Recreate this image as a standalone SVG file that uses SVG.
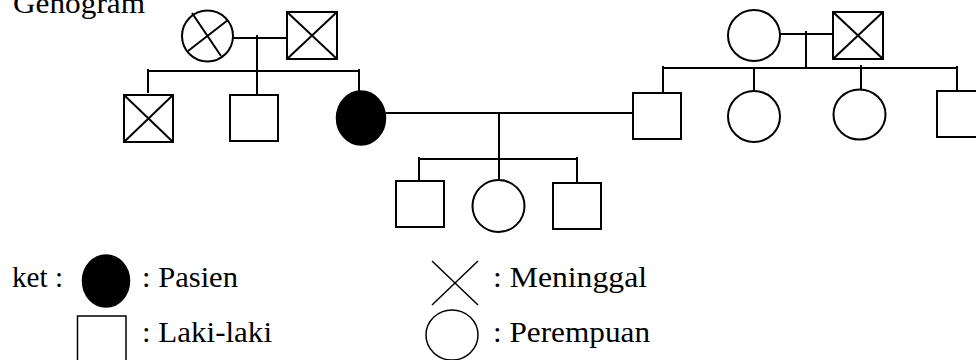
<svg xmlns="http://www.w3.org/2000/svg" width="976" height="360" viewBox="0 0 976 360">
<style>
.s{fill:#fff;stroke:#000;stroke-width:2}
.f{fill:#000;stroke:#000;stroke-width:1.5}
.x{stroke:#000;stroke-width:2;fill:none}
.c line{stroke:#000;stroke-width:2}
.l{fill:#fff;stroke:#000;stroke-width:1.5}
.lx{stroke:#000;stroke-width:1.5}
text{font-family:"Liberation Serif","Times New Roman",serif;font-size:30px;fill:#000}
</style>
<rect width="976" height="360" fill="#fff"/>
<text x="13" y="13" textLength="132" lengthAdjust="spacingAndGlyphs">Genogram</text>

<g id="connectors" class="c">
  <line x1="233" y1="38" x2="287" y2="38"/>
  <line x1="257" y1="35" x2="257" y2="95"/>
  <line x1="148" y1="71" x2="359" y2="71"/>
  <line x1="148" y1="69" x2="148" y2="93"/>
  <line x1="359" y1="69" x2="359" y2="91"/>
  <line x1="780" y1="34" x2="833" y2="34"/>
  <line x1="806" y1="31" x2="806" y2="68"/>
  <line x1="663" y1="68" x2="957" y2="68"/>
  <line x1="663" y1="66" x2="663" y2="93"/>
  <line x1="754" y1="68" x2="754" y2="91"/>
  <line x1="861" y1="65" x2="861" y2="89"/>
  <line x1="957" y1="66" x2="957" y2="91"/>
  <line x1="385" y1="113" x2="633" y2="113"/>
  <line x1="499" y1="113" x2="499" y2="180"/>
  <line x1="419" y1="159" x2="577" y2="159"/>
  <line x1="419" y1="157" x2="419" y2="181"/>
  <line x1="577" y1="157" x2="577" y2="183"/>
</g>

<g id="gm-left">
  <ellipse class="s" cx="207.5" cy="36" rx="25.5" ry="25.5"/>
  <line class="x" x1="192" y1="13" x2="221" y2="56"/>
  <line class="x" x1="188" y1="51" x2="228" y2="20"/>
</g>
<g id="gf-left">
  <rect class="s" x="287" y="12" width="50" height="47"/>
  <line class="x" x1="287" y1="12" x2="337" y2="59"/>
  <line class="x" x1="337" y1="12" x2="287" y2="59"/>
</g>
<g id="uncle1">
  <rect class="s" x="124" y="95" width="49" height="47"/>
  <line class="x" x1="124" y1="95" x2="173" y2="142"/>
  <line class="x" x1="173" y1="95" x2="124" y2="142"/>
</g>
<g id="uncle2">
  <rect class="s" x="230" y="95" width="48" height="46"/>
</g>
<g id="patient">
  <ellipse class="f" cx="361" cy="118" rx="24.5" ry="27"/>
</g>

<g id="gm-right">
  <ellipse class="s" cx="754" cy="35.5" rx="26" ry="25.5"/>
</g>
<g id="gf-right">
  <rect class="s" x="833" y="12" width="50" height="47"/>
  <line class="x" x1="833" y1="12" x2="883" y2="59"/>
  <line class="x" x1="883" y1="12" x2="833" y2="59"/>
</g>
<g id="husband">
  <rect class="s" x="633" y="93" width="48" height="46"/>
</g>
<g id="aunt1">
  <ellipse class="s" cx="754" cy="116.5" rx="26" ry="25.5"/>
</g>
<g id="aunt2">
  <ellipse class="s" cx="859.5" cy="114.5" rx="26" ry="25"/>
</g>
<g id="uncle3">
  <rect class="s" x="937" y="91" width="48" height="46"/>
</g>

<g id="child1">
  <rect class="s" x="396" y="181" width="48" height="46"/>
</g>
<g id="child2">
  <ellipse class="s" cx="498.5" cy="206" rx="26" ry="26"/>
</g>
<g id="child3">
  <rect class="s" x="553" y="183" width="48" height="46"/>
</g>

<g id="legend">
  <text x="12" y="287" textLength="51" lengthAdjust="spacingAndGlyphs">ket :</text>
  <ellipse class="f" cx="106" cy="281" rx="23.5" ry="26"/>
  <text x="142" y="287" textLength="96" lengthAdjust="spacingAndGlyphs">: Pasien</text>
  <rect class="l" x="77.5" y="316" width="48.5" height="50"/>
  <text x="142" y="342" textLength="130" lengthAdjust="spacingAndGlyphs">: Laki-laki</text>
  <line class="lx" x1="432" y1="261" x2="478" y2="305"/>
  <line class="lx" x1="478" y1="261" x2="432" y2="305"/>
  <text x="493" y="287" textLength="154" lengthAdjust="spacingAndGlyphs">: Meninggal</text>
  <ellipse class="l" cx="452" cy="335" rx="26" ry="25"/>
  <text x="493" y="342" textLength="157" lengthAdjust="spacingAndGlyphs">: Perempuan</text>
</g>
</svg>
